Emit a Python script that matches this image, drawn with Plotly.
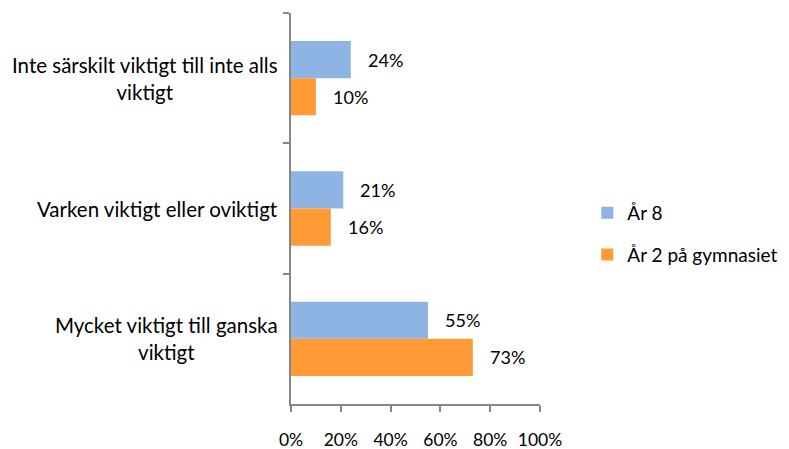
import plotly.graph_objects as go

categories = ["Inte särskilt viktigt till inte alls<br>viktigt",
              "Varken viktigt eller oviktigt",
              "Mycket viktigt till ganska<br>viktigt"]
ar8 = [0.24, 0.21, 0.55]
ar2 = [0.10, 0.16, 0.73]
series_names = ["År 8", "År 2 på gymnasiet"]
x_ticks = [0, 0.2, 0.4, 0.6, 0.8, 1.0]
x_ticklabels = ["0%", "20%", "40%", "60%", "80%", "100%"]

colors = ["#8db4e2", "#ff9a36"]
font = "Lato"

fig = go.Figure()
for i, (name, vals) in enumerate(zip(series_names, [ar8, ar2])):
    fig.add_trace(go.Bar(
        y=categories, x=vals, name=name, orientation="h",
        marker=dict(color=colors[i], line=dict(width=0)),
        legendgroup=f"g{i}",
    ))

annotations = []
for i, vals in enumerate([ar8, ar2]):
    shift = 18.5 if i == 0 else -18.5
    for c, v in zip(categories, vals):
        annotations.append(dict(
            x=v, y=c, xref="x", yref="y", text=f"{round(v*100)}%",
            showarrow=False, xanchor="left", yanchor="middle",
            xshift=15, yshift=shift,
            font=dict(family=font, size=18, color="#000000"),
        ))

# category labels, centred multi-line like the original
for c in categories:
    annotations.append(dict(
        x=0, y=c, xref="paper", yref="y", text=c, align="center",
        showarrow=False, xanchor="right", yanchor="middle", xshift=-11,
        font=dict(family=font, size=20.5, color="#000000"),
    ))

fig.update_layout(
    width=789, height=449,
    margin=dict(l=291, r=249, t=13, b=45, autoexpand=False),
    paper_bgcolor="white", plot_bgcolor="white",
    barmode="group", bargap=0.43, bargroupgap=0,
    font=dict(family=font, size=19, color="#000000"),
    annotations=annotations,
    legend=dict(x=1.19, y=0.435, xanchor="left", yanchor="middle",
                traceorder="grouped", tracegroupgap=14,
                font=dict(family=font, size=19, color="#000000")),
    xaxis=dict(range=[0, 1], tickvals=x_ticks, ticktext=x_ticklabels,
               showgrid=False, zeroline=False, showline=True,
               linecolor="#868686", linewidth=2, ticks="outside",
               ticklen=6, tickwidth=2, tickcolor="#868686",
               tickfont=dict(family=font, size=17.5, color="#000000"),
               ticklabelstandoff=13, automargin=False),
    yaxis=dict(autorange="reversed", showgrid=False, zeroline=False,
               showline=True, linecolor="#868686", linewidth=2,
               ticks="outside", ticklen=6, tickwidth=2, tickcolor="#868686",
               showticklabels=False,
               tickson="boundaries", automargin=False),
)

fig.write_html("out.html", config={"displayModeBar": False},
               post_script="document.body.style.margin='0';document.body.style.overflow='hidden';")
